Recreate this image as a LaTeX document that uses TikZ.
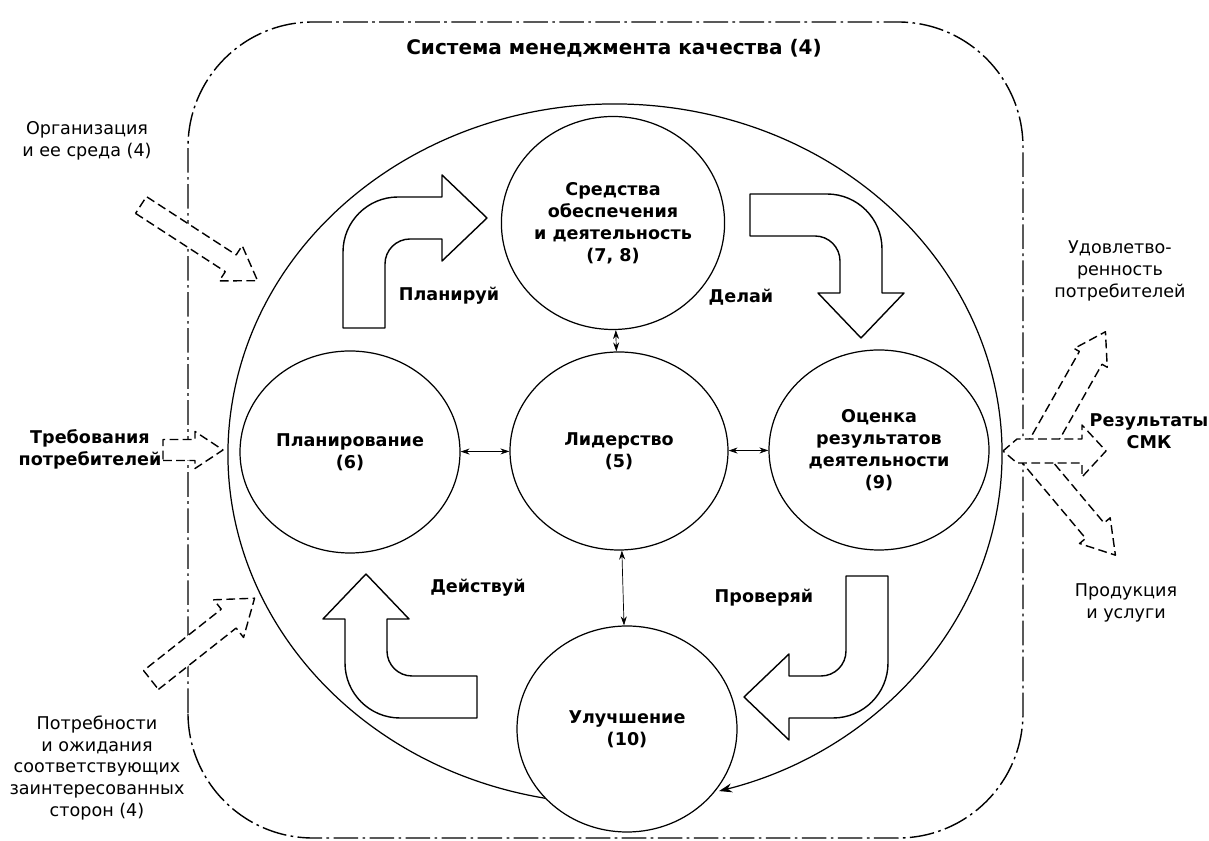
\documentclass[tikz,border=0pt]{standalone}
\usepackage{fontspec}
\setmainfont{DejaVu Sans}
\usetikzlibrary{shapes.geometric}
\usetikzlibrary{arrows.meta}
\newcommand\txtsize{\fontsize{10}{12.5}\selectfont}
\newcommand\titlesize{\fontsize{11.4}{14}\selectfont}

\begin{document}
\begin{tikzpicture}[x=0.2mm, y=0.2mm, line join=round,
  stage/.style={draw, ellipse, fill=white, line width=0.7pt, inner sep=0pt, align=center, font=\txtsize\bfseries},
  bent/.style={draw, fill=white, line width=0.8pt},
  flow/.style={draw, fill=white, line width=0.8pt, dash pattern=on 5pt off 2.5pt},
  frame/.style={line width=0.8pt, dash pattern=on 14pt off 2.5pt on 1.5pt off 2.5pt, rounded corners=25mm},
  txt/.style={align=center, font=\txtsize},
  pdca/.style={font=\txtsize\bfseries}]
\def\l{1.8mm}
\def\w{1.2mm}
% tail, angle, length, shaft, head, head length
\def\flowarrow#1#2#3#4#5#6{\draw[flow, shift={#1}, rotate=#2] (0,-#4) -- ({#3-#6},-#4) -- ({#3-#6},-#5) -- (#3,0) -- ({#3-#6},#5) -- ({#3-#6},#4) -- (0,#4) -- cycle;}
% outer corner, rotation, tail length
\def\bentarrow#1#2#3{\draw[bent, shift={#1}, rotate=#2] (0,-#3) -- (0,-55) arc[start angle=180, end angle=90, radius=55] -- (99,0) -- (99,22) -- (144,-21) -- (99,-64) -- (99,-42) -- (67,-42) arc[start angle=90, end angle=180, radius=25] -- (42,-#3) -- cycle;}
\useasboundingbox (0,0) rectangle (1209,841);

\draw[frame] (188,3) rectangle (1023,819);

\flowarrow{(141,636)}{-33}{139}{10}{21}{32}
\flowarrow{(163,391)}{0}{60}{10.5}{18.5}{28}
\flowarrow{(151,161)}{38.3}{132}{12}{24}{33}
\flowarrow{(1038,390)}{60.5}{137}{13}{19}{30}
\flowarrow{(1028,390)}{-50}{136}{12}{20}{32}
\draw[flow, shift={(1003,390)}] (0,0) -- (14,12) -- (79,12) -- (79,26) -- (103,0) -- (79,-26) -- (79,-12) -- (14,-12) -- cycle;

\coordinate (qms) at (615,387);
\draw[line width=0.7pt, -{Stealth[length=2.6mm, width=1.8mm]}] ([shift={(260:387 and 350)}]qms) arc[start angle=260, end angle=-74.4, x radius=387, y radius=350];

\bentarrow{(343,644)}{0}{131}
\bentarrow{(882,647)}{-90}{132}
\bentarrow{(888,123)}{180}{142}
\bentarrow{(345,123)}{90}{132}

\node[stage, minimum width=4.38cm, minimum height=4.26cm] (means) at (613,618) {Средства\\обеспечения\\и деятельность\\(7, 8)};
\node[stage, minimum width=4.4cm, minimum height=4.04cm] (plan) at (350,389) {Планирование\\(6)};
\node[stage, minimum width=4.36cm, minimum height=3.96cm] (lead) at (619,390) {Лидерство\\(5)};
\node[stage, minimum width=4.4cm, minimum height=4cm] (eval) at (879,391) {Оценка\\результатов\\деятельности\\(9)};
\node[stage, minimum width=4.4cm, minimum height=4.12cm] (impr) at (627,112) {Улучшение\\(10)};

\draw [{Stealth[length=\l, width=\w]}-{Stealth[length=\l, width=\w]}] (plan) -- (lead);
\draw [{Stealth[length=\l, width=\w]}-{Stealth[length=\l, width=\w]}] (lead) -- (eval);
\draw [{Stealth[length=\l, width=\w]}-{Stealth[length=\l, width=\w]}] (lead) -- (means);
\draw [{Stealth[length=\l, width=\w]}-{Stealth[length=\l, width=\w]}] (lead) -- (impr);

\node[font=\titlesize\bfseries] (title) at (614,793) {Система менеджмента качества (4)};
\node[txt] (org) at (87,700) {Организация\\и ее среда (4)};
\node[txt, font=\txtsize\bfseries] (req) at (90,392) {Требования\\потребителей};
\node[txt] (needs) at (97,73) {Потребности\\и ожидания\\соответствующих\\заинтересованных\\сторон (4)};
\node[txt] (sat) at (1120,570) {Удовлетво-\\ренность\\потребителей};
\node[txt, font=\txtsize\bfseries] (res) at (1149,410) {Результаты\\СМК};
\node[txt] (prod) at (1126,238) {Продукция\\и услуги};
\node[pdca] (plan word) at (449,545) {Планируй};
\node[pdca] (do word) at (741,544) {Делай};
\node[pdca] (act word) at (478,253) {Действуй};
\node[pdca] (check word) at (764,243) {Проверяй};
\end{tikzpicture}
\end{document}
